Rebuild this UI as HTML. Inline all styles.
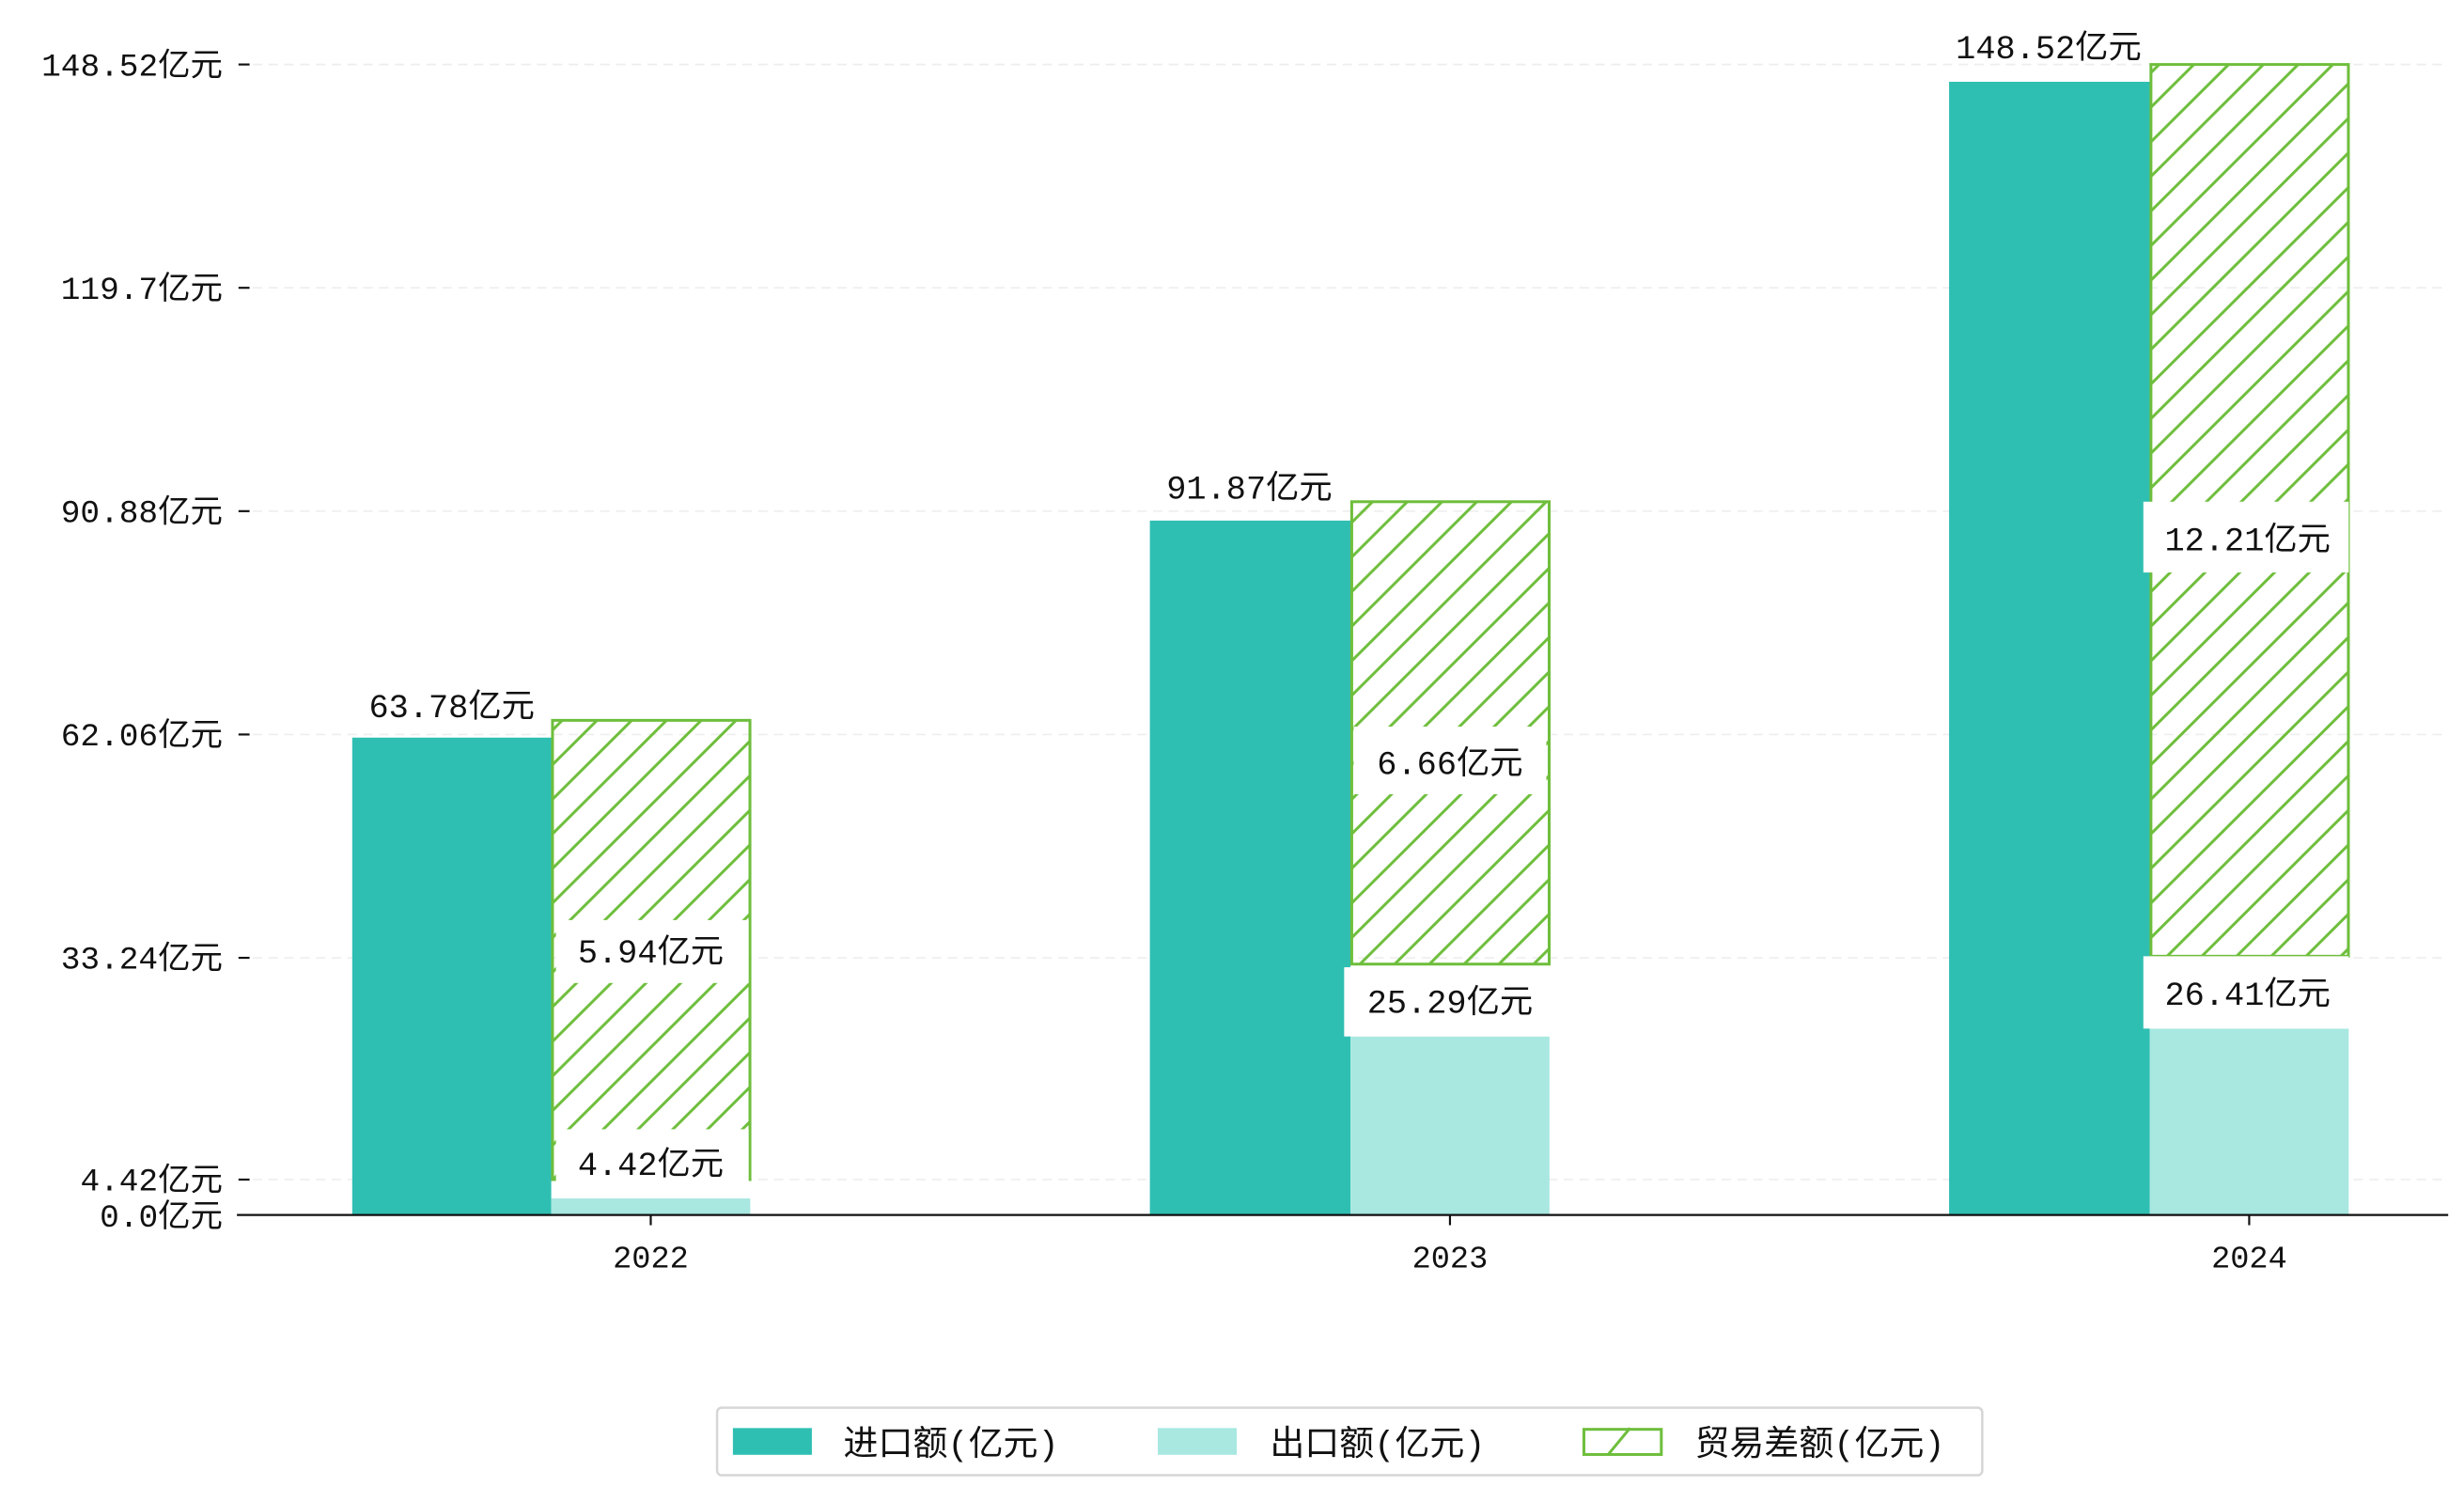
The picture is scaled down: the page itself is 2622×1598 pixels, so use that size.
<!DOCTYPE html>
<html><head><meta charset="utf-8"><style>
html,body{margin:0;padding:0;background:#fff;}
svg{display:block;}
text{font-family:"Liberation Mono","Noto Sans CJK SC",monospace;fill:#111;}
</style></head><body>
<svg width="2622" height="1598" viewBox="0 0 1560 955" preserveAspectRatio="none">
<defs>
<pattern id="h" patternUnits="userSpaceOnUse" width="22" height="22">
<line x1="-2" y1="24" x2="24" y2="-2" stroke="#6ebe3c" stroke-width="1.8"/>
<line x1="-13" y1="13" x2="13" y2="-13" stroke="#6ebe3c" stroke-width="1.8"/>
<line x1="9" y1="35" x2="35" y2="9" stroke="#6ebe3c" stroke-width="1.8"/>
</pattern>
</defs>
<g stroke="#eee" stroke-width="1" stroke-dasharray="6,4">
<line x1="160" y1="41" x2="1550" y2="41"/><line x1="160" y1="183" x2="1550" y2="183"/>
<line x1="160" y1="325" x2="1550" y2="325"/><line x1="160" y1="467" x2="1550" y2="467"/>
<line x1="160" y1="609" x2="1550" y2="609"/><line x1="160" y1="750" x2="1550" y2="750"/>
</g>
<g stroke="#111" stroke-width="1.3">
<line x1="151" y1="41" x2="158" y2="41"/><line x1="151" y1="183" x2="158" y2="183"/>
<line x1="151" y1="325" x2="158" y2="325"/><line x1="151" y1="467" x2="158" y2="467"/>
<line x1="151" y1="609" x2="158" y2="609"/><line x1="151" y1="750" x2="158" y2="750"/>
</g>
<g font-size="20.5" text-anchor="end">
<text x="141" y="48">148.52亿元</text><text x="141" y="190">119.7亿元</text>
<text x="141" y="332">90.88亿元</text><text x="141" y="474">62.06亿元</text>
<text x="141" y="616">33.24亿元</text><text x="141" y="757">4.42亿元</text>
<text x="141" y="780">0.0亿元</text>
</g>
<rect x="223" y="469" width="126" height="303" fill="#2fbfb2"/>
<rect x="349" y="762" width="126" height="10" fill="#a8e8e1"/>
<rect x="349.8" y="458" width="125" height="292" fill="url(#h)" stroke="#6ebe3c" stroke-width="1.8"/>
<rect x="728" y="331" width="127" height="441" fill="#2fbfb2"/>
<rect x="855" y="659" width="126" height="113" fill="#a8e8e1"/>
<rect x="855.8" y="319" width="125" height="294" fill="url(#h)" stroke="#6ebe3c" stroke-width="1.8"/>
<rect x="1234" y="52" width="127" height="720" fill="#2fbfb2"/>
<rect x="1361" y="654" width="126" height="118" fill="#a8e8e1"/>
<rect x="1361.8" y="41" width="125" height="567" fill="url(#h)" stroke="#6ebe3c" stroke-width="1.8"/>
<g fill="#fff">
<rect x="352" y="585" width="122" height="40"/><rect x="352" y="718" width="122" height="42"/>
<rect x="857" y="462" width="122" height="43"/><rect x="851" y="615" width="130" height="44"/>
<rect x="1357" y="319" width="130" height="45"/><rect x="1357" y="608" width="130" height="46"/>
</g>
<g font-size="21" text-anchor="middle">
<text x="286" y="456">63.78亿元</text><text x="791" y="317">91.87亿元</text><text x="1297" y="37">148.52亿元</text>
<text x="412" y="612">5.94亿元</text><text x="412" y="747">4.42亿元</text>
<text x="918" y="492">6.66亿元</text><text x="918" y="644">25.29亿元</text>
<text x="1423" y="350">12.21亿元</text><text x="1423" y="639">26.41亿元</text>
</g>
<line x1="150" y1="772.5" x2="1550" y2="772.5" stroke="#111" stroke-width="1.3"/>
<g stroke="#111" stroke-width="1.3"><line x1="412" y1="773" x2="412" y2="779"/><line x1="918" y1="773" x2="918" y2="779"/><line x1="1424" y1="773" x2="1424" y2="779"/></g>
<g font-size="20" text-anchor="middle"><text x="412" y="806">2022</text><text x="918" y="806">2023</text><text x="1424" y="806">2024</text></g>
<rect x="454" y="895" width="801" height="43" rx="3" fill="#fff" stroke="#d6d6d6" stroke-width="1.5"/>
<rect x="464" y="908" width="50" height="17" fill="#2fbfb2"/>
<rect x="733" y="908" width="50" height="17" fill="#a8e8e1"/>
<rect x="1002.8" y="908.8" width="49" height="16" fill="#fff" stroke="#6ebe3c" stroke-width="1.8"/>
<line x1="1018" y1="925" x2="1032" y2="908" stroke="#6ebe3c" stroke-width="1.8"/>
<g font-size="22"><text x="534" y="925">进口额(亿元)</text><text x="804" y="925">出口额(亿元)</text><text x="1073" y="925">贸易差额(亿元)</text></g>
</svg>
</body></html>
